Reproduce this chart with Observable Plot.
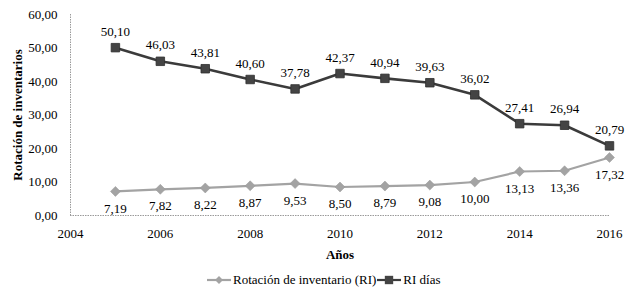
<!DOCTYPE html>
<html>
<head>
<meta charset="utf-8">
<script src="https://cdn.jsdelivr.net/npm/d3@7"></script>
<script src="https://cdn.jsdelivr.net/npm/@observablehq/plot@0.6"></script>
<style>
  html, body { margin: 0; padding: 0; background: #fff; }
  body { width: 638px; height: 294px; overflow: hidden; }
  body, svg, svg text, #legend, #legend span {
    font-family: "Liberation Serif", "Times New Roman", Times, serif !important;
  }
  #legend { height: 26px; line-height: 24px; font-size: 13px; color: #000; padding-left: 207px; white-space: nowrap; }
  #legend span.item { display: inline-flex; align-items: center; }
  #legend svg { vertical-align: middle; margin-right: 2px; }
</style>
</head>
<body>
<div id="chart"></div>
<div id="legend"></div>
<script>
const years = [2005, 2006, 2007, 2008, 2009, 2010, 2011, 2012, 2013, 2014, 2015, 2016];
const rotacion = [7.19, 7.82, 8.22, 8.87, 9.53, 8.50, 8.79, 9.08, 10.00, 13.13, 13.36, 17.32];
const riDias = [50.10, 46.03, 43.81, 40.60, 37.78, 42.37, 40.94, 39.63, 36.02, 27.41, 26.94, 20.79];
const xTicks = [2004, 2006, 2008, 2010, 2012, 2014, 2016];
const yTicks = [0, 10, 20, 30, 40, 50, 60];
const seriesNames = ["Rotación de inventario (RI)", "RI días"];
const yTitle = "Rotación de inventarios";
const xTitle = "Años";

const fmt = d => d.toFixed(2).replace(".", ",");
const darkColor = "#3b3b3b";
const greyColor = "#a3a3a3";
const serif = '"Liberation Serif", "Times New Roman", Times, serif';

const dataA = years.map((y, i) => ({year: y, value: rotacion[i]}));
const dataB = years.map((y, i) => ({year: y, value: riDias[i]}));

const chart = Plot.plot({
  width: 638,
  height: 268,
  marginLeft: 70,
  marginRight: 29,
  marginTop: 14,
  marginBottom: 53,
  style: {fontFamily: serif, fontSize: "13px", color: "#000", background: "#fff"},
  x: {domain: [2004, 2016], ticks: xTicks, tickFormat: d => String(d), tickSize: 0, tickPadding: 13, label: null},
  y: {domain: [0, 60], ticks: yTicks, tickFormat: fmt, tickSize: 0, tickPadding: 13, label: null},
  marks: [
    Plot.ruleY([0], {stroke: "#9a9a9a", strokeDasharray: "1.5,1"}),
    Plot.ruleX([2004], {stroke: "#9a9a9a", strokeDasharray: "1.5,1"}),
    Plot.line(dataA, {x: "year", y: "value", stroke: greyColor, strokeWidth: 2.2}),
    Plot.dot(dataA, {x: "year", y: "value", symbol: "diamond2", r: 4.5, fill: greyColor, stroke: "#999", strokeWidth: 0.5}),
    Plot.text(dataA, {x: "year", y: "value", text: d => fmt(d.value), dy: 17, fontSize: 13, fill: "#000", fontFamily: serif}),
    Plot.line(dataB, {x: "year", y: "value", stroke: darkColor, strokeWidth: 2.6}),
    Plot.dot(dataB, {x: "year", y: "value", symbol: "square", r: 4.8, fill: "#444", stroke: "#2e2e2e", strokeWidth: 0.8}),
    Plot.text(dataB, {x: "year", y: "value", text: d => fmt(d.value), dy: -16, fontSize: 13, fill: "#000", fontFamily: serif}),
    Plot.text([yTitle], {frameAnchor: "left", textAnchor: "middle", rotate: -90, dx: -53, fontWeight: "bold", fontSize: 13, fill: "#000", fontFamily: serif}),
    Plot.text([xTitle], {frameAnchor: "bottom", textAnchor: "middle", dy: 43, fontWeight: "bold", fontSize: 13, fill: "#000", fontFamily: serif})
  ]
});
document.getElementById("chart").appendChild(chart);

// Legend
const legend = d3.select("#legend");
const items = [
  {name: seriesNames[0], color: greyColor, symbol: d3.symbolDiamond2, size: 40, fill: greyColor},
  {name: seriesNames[1], color: darkColor, symbol: d3.symbolSquare, size: 70, fill: "#444"}
];
items.forEach((it, i) => {
  const span = legend.append("span").attr("class", "item").style("margin-left", i ? "1px" : "0");
  const svg = span.append("svg").attr("width", 24).attr("height", 12);
  svg.append("line").attr("x1", 0).attr("x2", 24).attr("y1", 6).attr("y2", 6)
    .attr("stroke", it.color).attr("stroke-width", 2.2);
  svg.append("path").attr("transform", "translate(12,6)")
    .attr("d", d3.symbol(it.symbol, it.size)()).attr("fill", it.fill);
  span.append("span").text(it.name);
});
</script>
</body>
</html>
